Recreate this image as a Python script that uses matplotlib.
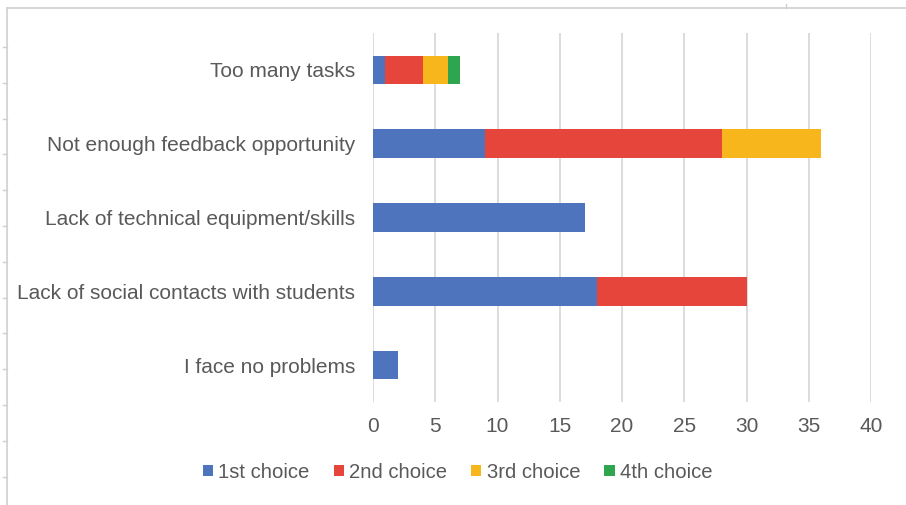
import matplotlib.pyplot as plt
import numpy as np
from matplotlib.lines import Line2D

categories = ["Too many tasks", "Not enough feedback opportunity",
              "Lack of technical equipment/skills",
              "Lack of social contacts with students", "I face no problems"]
series = ["1st choice", "2nd choice", "3rd choice", "4th choice"]
first = [1, 9, 17, 18, 2]
second = [3, 19, 0, 12, 0]
third = [2, 8, 0, 0, 0]
fourth = [1, 0, 0, 0, 0]
colors = ["#4F74BE", "#E5453A", "#F7B61C", "#2FA550"]
x_ticks = [0, 5, 10, 15, 20, 25, 30, 35, 40]

plt.rcParams["font.family"] = ["Liberation Sans", "DejaVu Sans"]
text_col = "#595959"

fig = plt.figure(figsize=(9.06, 5.05), dpi=100)
ax = fig.add_axes([373 / 906, 1 - 402 / 505, 498 / 906, 369 / 505])

y = np.arange(len(categories))
left = np.zeros(len(categories))
for name, vals, c in zip(series, [first, second, third, fourth], colors):
    vals = np.array(vals, dtype=float)
    ax.barh(y, vals, left=left, height=0.39, color=c, label=name, zorder=3)
    left += vals

ax.set_xlim(0, 40)
ax.set_ylim(len(categories) - 0.5, -0.5)
ax.set_xticks(x_ticks)
ax.set_yticks(y)
ax.set_yticklabels(categories)
ax.grid(axis="x", color="#D9D9D9", linewidth=1.3, zorder=0)
for s in ax.spines.values():
    s.set_visible(False)
ax.tick_params(length=0, labelsize=15, labelcolor=text_col)
ax.tick_params(axis="x", pad=11)
ax.tick_params(axis="y", pad=13)

fig.legend(loc="center", bbox_to_anchor=(0.505, 1 - 472 / 505), ncol=4,
           frameon=False, fontsize=14.6, labelcolor=text_col,
           handlelength=0.5, handleheight=0.5, handletextpad=0.25,
           columnspacing=1.2, borderpad=0)

# sheet border left over from the spreadsheet screenshot
bc = "#D0D0D0"
fig.add_artist(Line2D([7 / 906, 1], [1 - 8 / 505] * 2, color=bc, lw=1.2))
fig.add_artist(Line2D([7 / 906] * 2, [1 - 8 / 505, 0], color=bc, lw=1.2))
for py in np.arange(47, 505, 35.8):
    fig.add_artist(Line2D([3 / 906, 7 / 906], [1 - py / 505] * 2, color=bc, lw=1))
fig.add_artist(Line2D([786 / 906] * 2, [1 - 4 / 505, 1 - 8 / 505], color=bc, lw=1))

fig.savefig("out.png", dpi=100)
